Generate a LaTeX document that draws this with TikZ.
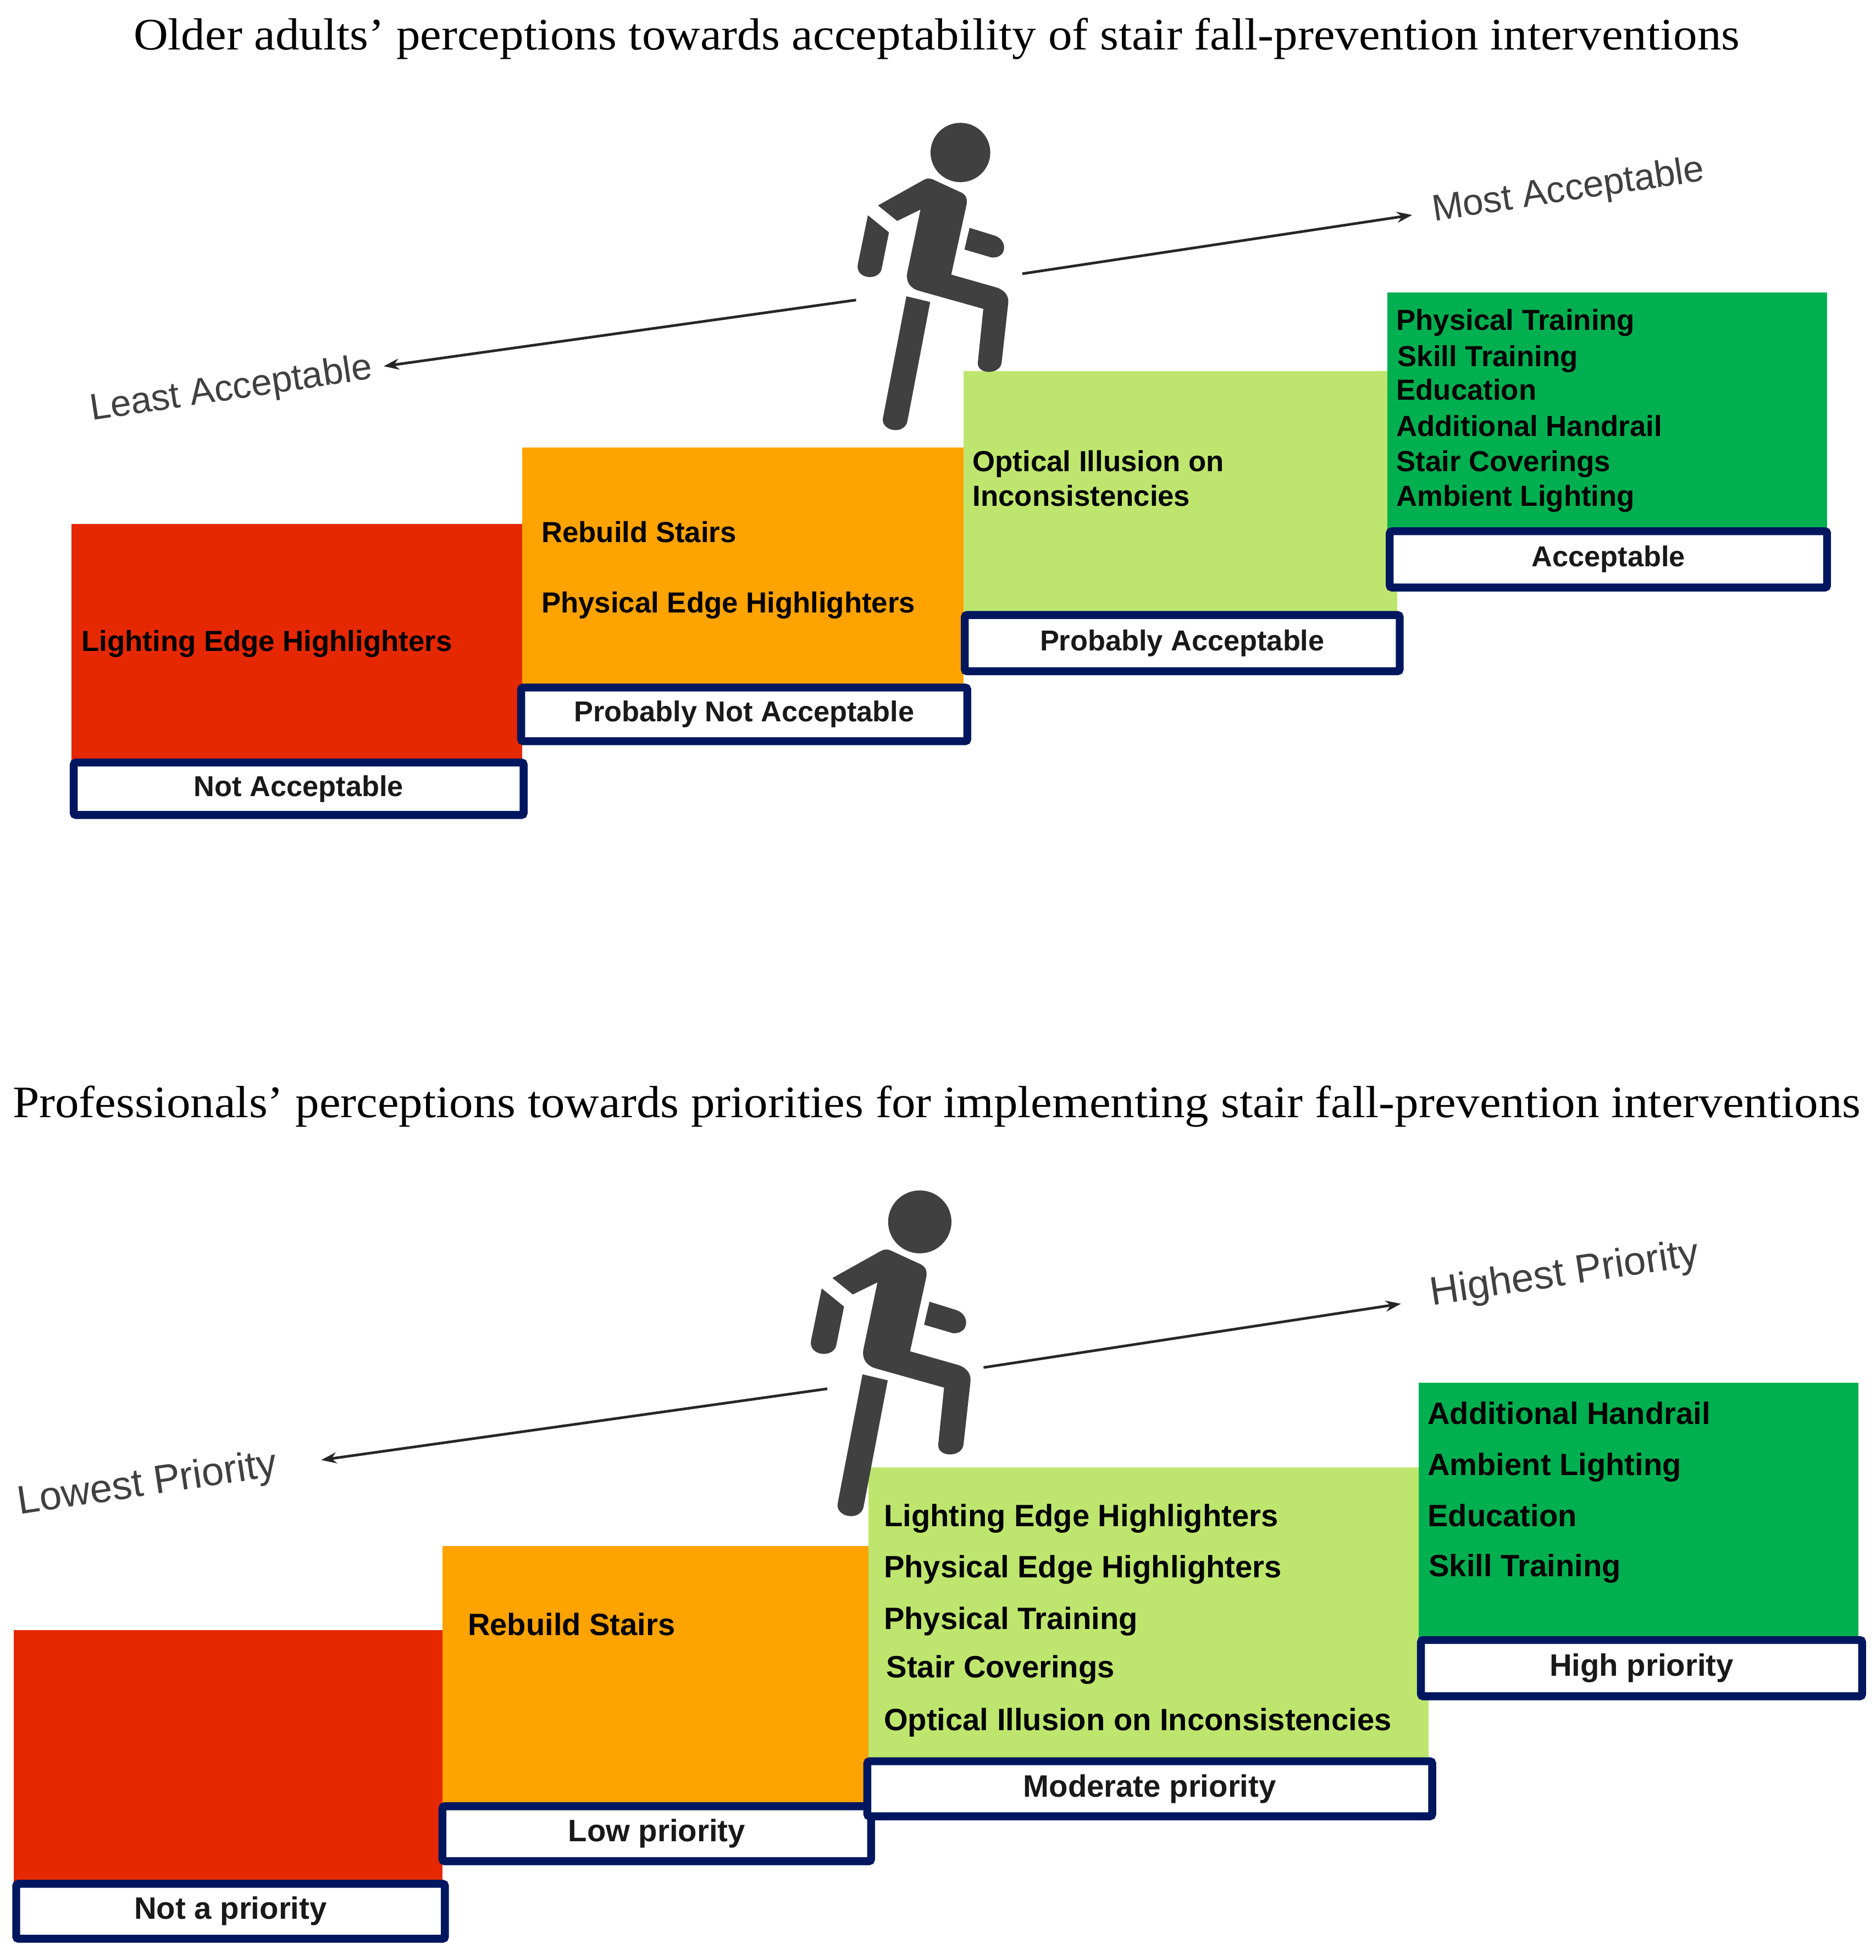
\documentclass[tikz,border=0pt]{standalone}
\usepackage{fontspec}
\setmainfont{Liberation Serif}
\setsansfont{Liberation Sans}
\newfontfamily\titlefont[FakeStretch=1.062]{Liberation Serif}
\usetikzlibrary{arrows.meta}
\definecolor{cred}{HTML}{E52800}
\definecolor{corange}{HTML}{FFA300}
\definecolor{clight}{HTML}{BEE66E}
\definecolor{cgreen}{HTML}{00B050}
\definecolor{cnavy}{HTML}{00175F}
\definecolor{cfig}{HTML}{404040}
\tikzset{
  stairblock/.style={inner sep=0pt,outer sep=0pt,draw=none},
  levelbox/.style={draw=cnavy,line width=3.6pt,fill=white,rounded corners=1pt,inner sep=0pt,outer sep=0pt,
     font=\sffamily\bfseries\fontsize{13.1}{15}\selectfont,text=black!90},
  levelboxb/.style={levelbox,font=\sffamily\bfseries\fontsize{14.1}{15}\selectfont},
  itemtext/.style={anchor=mid west,inner sep=0pt,yshift=-1.7pt,font=\sffamily\bfseries\fontsize{13.2}{15}\selectfont,text=black},
  itemtextb/.style={itemtext,yshift=-0.7pt,font=\sffamily\bfseries\fontsize{14.05}{15}\selectfont},
  axistext/.style={inner sep=0pt,font=\sffamily\fontsize{16.9}{18}\selectfont,text=cfig,rotate=8.5},
  axistextb/.style={axistext,font=\sffamily\fontsize{18.2}{20}\selectfont},
  titletext/.style={inner sep=0pt,font=\titlefont\fontsize{20.5}{22}\selectfont,text=black},
  axisline/.style={line width=1.2pt,black!85,-{Stealth[length=7pt,width=5pt]}},
}
\newcommand{\stairstep}[6]{\node[stairblock,fill=#2,minimum width={(#5-#3)*0.02cm},minimum height={(#6-#4)*0.02cm}] (#1) at ({(#3+#5)/2},{(#4+#6)/2}) {};}
\newcommand{\levelb}[7][levelbox]{\node[#1,minimum width={(#5-#3-4)*0.02cm},minimum height={(#6-#4-4)*0.02cm}] (#2) at ({(#3+#5)/2},{(#4+#6)/2}) {\raisebox{-0.5pt}{#7}};}
\newcommand{\walker}[3]{%
\begin{scope}[shift={(#1,#2)},xscale={0.1466*#3},yscale={0.1826*#3},shift={(-1040,-230)}]
  \fill[cfig] (1040,230) ellipse [x radius=163,y radius=130];
  \fill[cfig] (590,462) -- (840,350) .. controls (860,342) and (875,342) .. (895,350) -- (1030,400) .. controls (1070,412) and (1080,430) .. (1073,460) -- (990,765) -- (1240,822) .. controls (1285,835) and (1305,860) .. (1301,890) -- (1265,1150) .. controls (1258,1205) and (1130,1205) .. (1135,1150) -- (1165,915) -- (810,835) .. controls (770,825) and (742,800) .. (749,760) -- (822,480) -- (695,530) -- cycle;
  \fill[cfig] (535,505) -- (650,580) -- (610,740) .. controls (595,795) and (465,785) .. (480,720) -- cycle;
  \fill[cfig] (1090,560) -- (1230,595) .. controls (1300,615) and (1295,695) .. (1210,690) -- (1062,655) -- cycle;
  \fill[cfig] (745,860) -- (875,885) -- (750,1410) .. controls (730,1470) and (600,1450) .. (618,1390) -- cycle;
\end{scope}}
\begin{document}
\begin{tikzpicture}[x=0.02cm,y=-0.02cm]
\useasboundingbox (0,0) rectangle (1501,1568);
\fill[white] (0,0) rectangle (1501,1568);

% ---- top panel ----
\node[titletext] (t1) at (749.5,31) {Older adults’ perceptions towards acceptability of stair fall-prevention interventions};

\stairstep{a1}{cred}{57}{419}{418}{610}
\stairstep{a3}{clight}{771}{297}{1118}{495}
\stairstep{a2}{corange}{418}{358}{771}{550}
\stairstep{a4}{cgreen}{1110}{234}{1462}{428}
\levelb{al1}{57}{608}{421}{654}{Not Acceptable}
\levelb{al2}{415}{548}{776}{595}{Probably Not Acceptable}
\levelb{al3}{770}{490}{1122}{539}{Probably Acceptable}
\levelb{al4}{1110}{423}{1464}{472}{Acceptable}

\node[itemtext] (a1i) at (65,514) {Lighting Edge Highlighters};
\node[itemtext] (a2i) at (433,427) {Rebuild Stairs};
\node[itemtext] (a2j) at (433,483) {Physical Edge Highlighters};
\node[itemtext] (a3i) at (778,370) {Optical Illusion on};
\node[itemtext] (a3j) at (778,398) {Inconsistencies};
\node[itemtext] (a4a) at (1117,257) {Physical Training};
\node[itemtext] (a4b) at (1118,286) {Skill Training};
\node[itemtext] (a4c) at (1117,313) {Education};
\node[itemtext] (a4d) at (1117,342) {Additional Handrail};
\node[itemtext] (a4e) at (1117,370) {Stair Coverings};
\node[itemtext] (a4f) at (1117,398) {Ambient Lighting};

\walker{768.5}{122}{1}
\coordinate (p1l) at (685,240);
\coordinate (p1r) at (818,219);
\node[axistext] (least) at (185,312) {Least Acceptable};
\node[axistext] (most) at (1255,153) {Most Acceptable};
\coordinate (least-e) at (307,293);
\coordinate (most-e) at (1130,172);
\draw[axisline] (p1l) -- (least-e);
\draw[axisline] (p1r) -- (most-e);

% ---- bottom panel ----
\node[titletext] (t2) at (749.5,885) {Professionals’ perceptions towards priorities for implementing stair fall-prevention interventions};

\stairstep{b1}{cred}{11}{1304}{354}{1508}
\stairstep{b3}{clight}{695}{1174}{1143}{1410}
\stairstep{b2}{corange}{354}{1237}{695}{1446}
\stairstep{b4}{cgreen}{1135}{1106}{1487}{1312}
\levelb[levelboxb]{bl1}{11}{1505}{358}{1553}{Not a priority}
\levelb[levelboxb]{bl2}{352}{1443}{699}{1491}{Low priority}
\levelb[levelboxb]{bl3}{692}{1407}{1148}{1455}{Moderate priority}
\levelb[levelboxb]{bl4}{1135}{1310}{1492}{1359}{High priority}

\node[itemtextb] (b2i) at (374,1300) {Rebuild Stairs};
\node[itemtextb] (b3a) at (707,1213) {Lighting Edge Highlighters};
\node[itemtextb] (b3b) at (707,1254) {Physical Edge Highlighters};
\node[itemtextb] (b3c) at (707,1295) {Physical Training};
\node[itemtextb] (b3d) at (709,1334) {Stair Coverings};
\node[itemtextb] (b3e) at (707,1376) {Optical Illusion on Inconsistencies};
\node[itemtextb] (b4a) at (1142,1131) {Additional Handrail};
\node[itemtextb] (b4b) at (1142,1172) {Ambient Lighting};
\node[itemtextb] (b4c) at (1142,1213) {Education};
\node[itemtextb] (b4d) at (1143,1253) {Skill Training};

\walker{736}{977.5}{1.06}
\coordinate (p2l) at (662,1111);
\coordinate (p2r) at (787,1094);
\node[axistextb] (lowest) at (118,1188) {Lowest Priority};
\node[axistextb] (highest) at (1252,1020) {Highest Priority};
\coordinate (lowest-e) at (257,1168);
\coordinate (highest-e) at (1121,1043);
\draw[axisline] (p2l) -- (lowest-e);
\draw[axisline] (p2r) -- (highest-e);
\end{tikzpicture}
\end{document}
